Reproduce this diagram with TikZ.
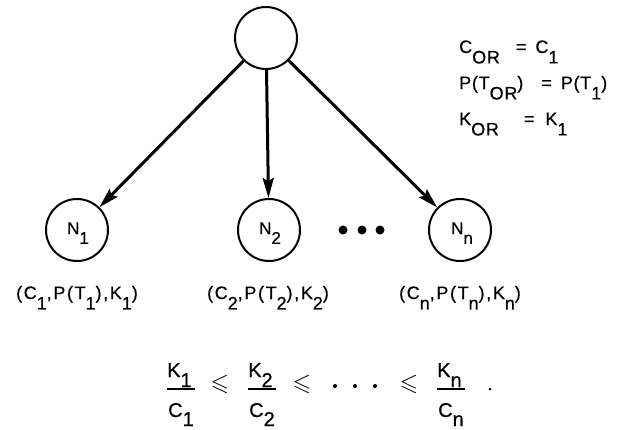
\documentclass[tikz,border=0pt]{standalone}
\usepackage{amsmath,amssymb}
\usepackage{fontspec}
\setmainfont{Liberation Sans}[FakeBold=0.6]
\newfontfamily\labfont{Liberation Sans}[LetterSpace=9,FakeBold=0.6]
\newfontfamily\rtfont{Liberation Sans}[LetterSpace=4,FakeBold=0.6]
\usetikzlibrary{arrows.meta}
\newcommand{\sbx}[1]{\raisebox{-0.58em}{#1}}
\begin{document}
\begin{tikzpicture}[x=1pt,y=-1pt,
  circ/.style={draw,circle,line width=2pt,minimum size=62pt,inner sep=0pt},
  arr/.style={line width=3pt,-{Stealth[length=20pt,width=11pt,inset=3pt]}},
  lab/.style={font=\fontsize{18}{20}\selectfont\labfont,inner sep=0pt,anchor=base},
  rt/.style={font=\fontsize{18}{20}\selectfont\rtfont,inner sep=0pt,anchor=base west},
  ntext/.style={font=\fontsize{17}{19}\selectfont,inner sep=0pt,anchor=base},
  fr/.style={font=\fontsize{20}{22}\selectfont,inner sep=0pt,anchor=base west},
  rel/.style={font=\fontsize{24}{26}\selectfont,inner sep=0pt},
  bar/.style={line width=1.6pt},
  dot/.style={circle,fill,inner sep=0pt,minimum size=9pt},
  sdot/.style={circle,fill,inner sep=0pt,minimum size=4pt}]
\useasboundingbox (0,0) rectangle (618,429);
% nodes
\node[circ,minimum size=62pt] (top) at (266,38) {};
\node[circ] (n1) at (77,230) {};
\node[circ] (n2) at (269,230) {};
\node[circ] (nn) at (460,230) {};
\node[ntext] (t1) at (78,234) {N\sbx{1}};
\node[ntext] (t2) at (270,234) {N\sbx{2}};
\node[ntext] (tn) at (462,234) {N\sbx{n}};
\draw[arr] (top) -- (n1);
\draw[arr] (top) -- (n2);
\draw[arr] (top) -- (nn);
\node[dot] (d1) at (343,230) {};
\node[dot] (d2) at (362,230) {};
\node[dot] (d3) at (380,230) {};
% labels under nodes
\node[lab] (l1) at (77,299) {(C\sbx{1},P(T\sbx{1}),K\sbx{1})};
\node[lab] (l2) at (268,299) {(C\sbx{2},P(T\sbx{2}),K\sbx{2})};
\node[lab] (l3) at (460,299) {(C\sbx{n},P(T\sbx{n}),K\sbx{n})};
% right text
\node[rt] (r1) at (459,53) {C\sbx{OR}\hspace{16pt}=\hspace{9pt}C\sbx{1}};
\node[rt] (r2) at (459,89) {P(T\sbx{OR})\hspace{18pt}=\hspace{9pt}P(T\sbx{1})};
\node[rt] (r3) at (459,125) {K\sbx{OR}\hspace{25pt}=\hspace{11pt}K\sbx{1}};
% fractions
\node[fr] (k1) at (167,377) {K\raisebox{-0.5em}{1}};
\node[fr] (c1) at (168,417) {C\raisebox{-0.45em}{1}};
\draw[bar] (167,389) coordinate (b1a) -- (195,389) coordinate (b1b);
\node[rel] (le1) at (220,384) {$\leqslant$};
\node[fr] (k2) at (248,377) {K\raisebox{-0.5em}{2}};
\node[fr] (c2) at (249,417) {C\raisebox{-0.45em}{2}};
\draw[bar] (248,389) coordinate (b2a) -- (276,389) coordinate (b2b);
\node[rel] (le2) at (302,384) {$\leqslant$};
\node[sdot] (e1) at (335,386) {};
\node[sdot] (e2) at (355,386) {};
\node[sdot] (e3) at (375,386) {};
\node[rel] (le3) at (409,384) {$\leqslant$};
\node[fr] (kn) at (437,377) {K\raisebox{-0.5em}{n}};
\node[fr] (cn) at (438,417) {C\raisebox{-0.45em}{n}};
\draw[bar] (437,389) coordinate (bna) -- (465,389) coordinate (bnb);
\node[sdot,minimum size=3pt] (per) at (490,389) {};
\end{tikzpicture}
\end{document}
